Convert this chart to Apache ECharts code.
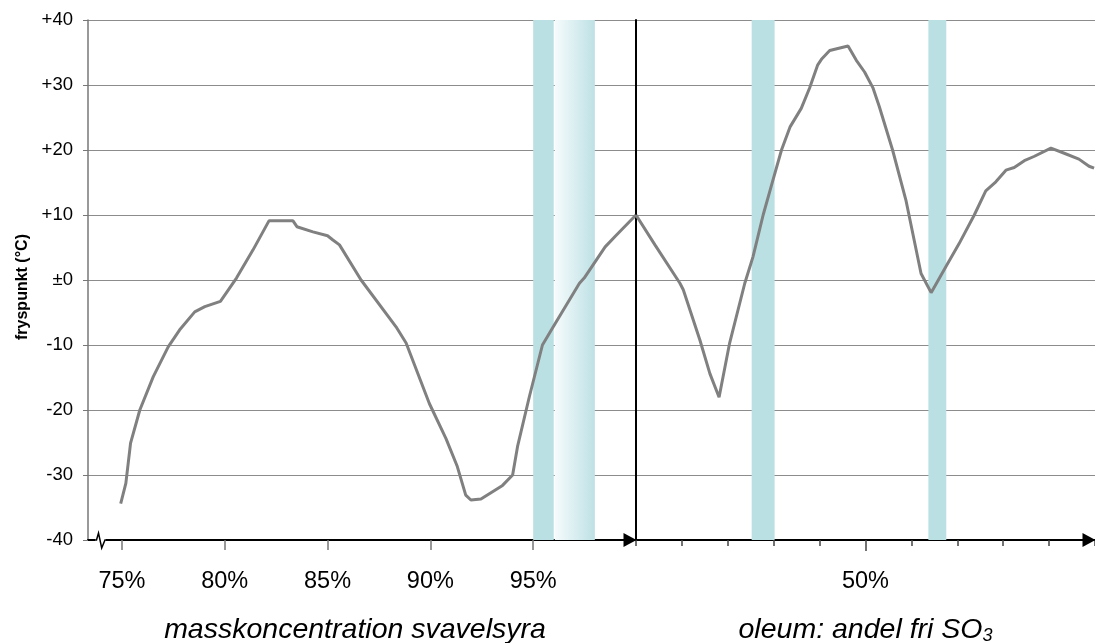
<!DOCTYPE html>
<html>
<head>
<meta charset="utf-8">
<script src="https://cdn.jsdelivr.net/npm/echarts@6/dist/echarts.min.js"></script>
<style>
html,body{margin:0;padding:0;background:#fff;}
#chart{width:1095px;height:643px;}
</style>
</head>
<body>
<div id="chart"></div>
<script>
// ---- data ----
var acidX = [74.94, 75.19, 75.42, 75.87, 76.52, 77.25, 77.8, 78.54, 79.03, 79.79, 80.57, 81.37, 82.15, 83.32, 83.51, 84.29, 85.0, 85.26, 85.58, 86.63, 88.33, 88.82, 89.95, 90.76, 91.31, 91.72, 91.97, 92.46, 93.51, 94.0, 94.24, 94.81, 95.45, 95.94, 97.25, 97.48, 98.5, 98.98, 100];
var acidY = [-34.4, -31.3, -25.1, -20, -14.9, -10.3, -7.7, -4.9, -4.1, -3.3, 0.3, 4.6, 9.1, 9.1, 8.2, 7.4, 6.8, 6.15, 5.4, 0, -7.2, -9.7, -19, -24.4, -28.7, -33.1, -33.85, -33.7, -31.6, -30, -25.6, -18, -10, -7.4, -0.5, 0.3, 5.1, 6.7, 10];
var oleumX = [0, 4.13, 9.57, 10.3, 13.9, 16.1, 18.1, 20.4, 23.7, 25.5, 27.7, 29.85, 31.7, 33.6, 36.0, 37.8, 39.6, 40.4, 42.2, 46.2, 48.0, 49.8, 51.6, 53.0, 55.9, 58.8, 62.1, 64.3, 67.5, 70.4, 73.7, 76.2, 78.4, 80.6, 82.4, 84.6, 86.7, 90.4, 93.3, 96.5, 98.7, 99.8];
var oleumY = [10, 5.4, -0.5, -1.5, -9.2, -14.4, -18.05, -9.7, -0.5, 3.6, 10, 15.4, 20, 23.6, 26.4, 29.5, 33.1, 33.95, 35.3, 36.0, 33.8, 32, 29.6, 26.7, 20, 12.3, 1.0, -1.95, 2.05, 5.6, 10, 13.7, 15.1, 16.9, 17.3, 18.35, 19, 20.3, 19.5, 18.6, 17.5, 17.2];
var acidTicks = [75, 80, 85, 90, 95];
var oleumLabelTicks = [50];
var acidBandSolid = [95, 96];
var acidBandFade = [96.05, 98];
var oleumBands = [[25.2, 30.2], [63.7, 67.6]];
var xTitleLeft = 'masskoncentration svavelsyra';
var xTitleRight = 'oleum: andel fri SO{sub|3}';
var yTitle = 'fryspunkt (°C)';

function zip(xs, ys) { return xs.map(function (x, i) { return [x, ys[i]]; }); }

var FONT = 'Liberation Sans, Arial, Helvetica, sans-serif';
var TEAL = '#bae0e4';
var GRID_COLOR = '#8c8c8c';

function yLabel(v) {
  if (v > 0) return '+' + v;
  if (v === 0) return '\u00b10';
  return String(v);
}

var chart = echarts.init(document.getElementById('chart'));
var option = {
  animation: false,
  backgroundColor: '#fff',
  grid: [
    { left: 88, top: 20, width: 548, bottom: 103, outerBoundsMode: 'none', containLabel: false },
    { left: 636, top: 20, right: 0, bottom: 103, outerBoundsMode: 'none', containLabel: false }
  ],
  xAxis: [
    {
      type: 'value', gridIndex: 0, min: 73.35, max: 100, position: 'bottom',
      axisLine: { show: true, onZero: false, symbol: ['none', 'triangle'], symbolSize: [14, 13], symbolOffset: [0, -6], lineStyle: { color: '#000', width: 2 } },
      axisTick: { show: true, customValues: acidTicks, length: 10, lineStyle: { color: '#777', width: 1.5 } },
      axisLabel: { show: true, customValues: acidTicks, formatter: function (v) { return v + '%'; }, fontSize: 23.5, color: '#000', fontFamily: FONT, margin: 30 },
      splitLine: { show: false },
      name: xTitleLeft, nameLocation: 'middle', nameGap: 76,
      nameTextStyle: { fontSize: 28.5, fontStyle: 'italic', color: '#000', fontFamily: FONT, padding: [0, 14, 0, 0] }
    },
    {
      type: 'value', gridIndex: 1, min: 0, max: 100, interval: 10, position: 'bottom',
      axisLine: { show: true, onZero: false, symbol: ['none', 'triangle'], symbolSize: [14, 13], symbolOffset: [0, -6], lineStyle: { color: '#000', width: 2 } },
      axisTick: { show: true, length: 6, lineStyle: { color: '#444', width: 1.5 } },
      axisLabel: { show: false },
      splitLine: { show: false },
      name: xTitleRight, nameLocation: 'middle', nameGap: 75,
      nameTextStyle: {
        fontSize: 28.5, fontStyle: 'italic', color: '#000', fontFamily: FONT, lineHeight: 30,
        rich: { sub: { fontSize: 18, fontStyle: 'italic', color: '#000', fontFamily: FONT, lineHeight: 30, verticalAlign: 'bottom', padding: [8, 0, 0, 0] } }
      }
    },
    {
      type: 'value', gridIndex: 1, min: 0, max: 100, position: 'bottom',
      axisLine: { show: false, onZero: false },
      axisTick: { show: true, customValues: oleumLabelTicks, length: 11, lineStyle: { color: '#444', width: 1.5 } },
      axisLabel: { show: true, customValues: oleumLabelTicks, formatter: function (v) { return v + '%'; }, fontSize: 23.5, color: '#000', fontFamily: FONT, margin: 30 },
      splitLine: { show: false }
    }
  ],
  yAxis: [
    {
      type: 'value', gridIndex: 0, min: -40, max: 40, interval: 10,
      axisLine: { show: true, onZero: false, lineStyle: { color: '#777', width: 1.5 } },
      axisTick: { show: true, length: 5, lineStyle: { color: '#777', width: 1 } },
      axisLabel: { formatter: yLabel, fontSize: 18.5, color: '#000', fontFamily: FONT, margin: 15 },
      splitLine: { show: true, lineStyle: { color: GRID_COLOR, width: 1 } },
      name: yTitle, nameLocation: 'middle', nameGap: 56,
      nameTextStyle: { fontSize: 16, fontWeight: 'bold', color: '#000', fontFamily: FONT, padding: [0, 14, 0, 0] }
    },
    {
      type: 'value', gridIndex: 1, min: -40, max: 40, interval: 10,
      axisLine: { show: true, onZero: false, lineStyle: { color: '#000', width: 2 } },
      axisTick: { show: false },
      axisLabel: { show: false },
      splitLine: { show: true, lineStyle: { color: GRID_COLOR, width: 1 } }
    }
  ],
  series: [
    {
      type: 'line', xAxisIndex: 0, yAxisIndex: 0, data: zip(acidX, acidY),
      showSymbol: false, symbol: 'none', z: 5,
      lineStyle: { color: '#808080', width: 3 },
      markArea: {
        silent: true,
        data: [
          [{ xAxis: acidBandSolid[0], itemStyle: { color: TEAL } }, { xAxis: acidBandSolid[1] }],
          [{ xAxis: acidBandFade[0], itemStyle: { color: { type: 'linear', x: 0, y: 0, x2: 1, y2: 0, colorStops: [{ offset: 0, color: '#f6fbfc' }, { offset: 1, color: '#bee1e5' }] } } }, { xAxis: acidBandFade[1] }]
        ]
      }
    },
    {
      type: 'line', xAxisIndex: 1, yAxisIndex: 1, data: zip(oleumX, oleumY),
      showSymbol: false, symbol: 'none', z: 5,
      lineStyle: { color: '#808080', width: 3 },
      markArea: {
        silent: true,
        itemStyle: { color: TEAL },
        data: oleumBands.map(function (b) { return [{ xAxis: b[0] }, { xAxis: b[1] }]; })
      }
    }
  ],
  graphic: [
    { type: 'rect', shape: { x: 95, y: 537, width: 11, height: 6 }, style: { fill: '#fff' }, z: 100 },
    { type: 'polyline', shape: { points: [[90, 540], [96.5, 540], [98.5, 533], [101.7, 548], [105, 540], [107, 540]] }, style: { stroke: '#000', lineWidth: 1.5, fill: null }, z: 101 }
  ]
};
chart.setOption(option);
</script>
</body>
</html>
